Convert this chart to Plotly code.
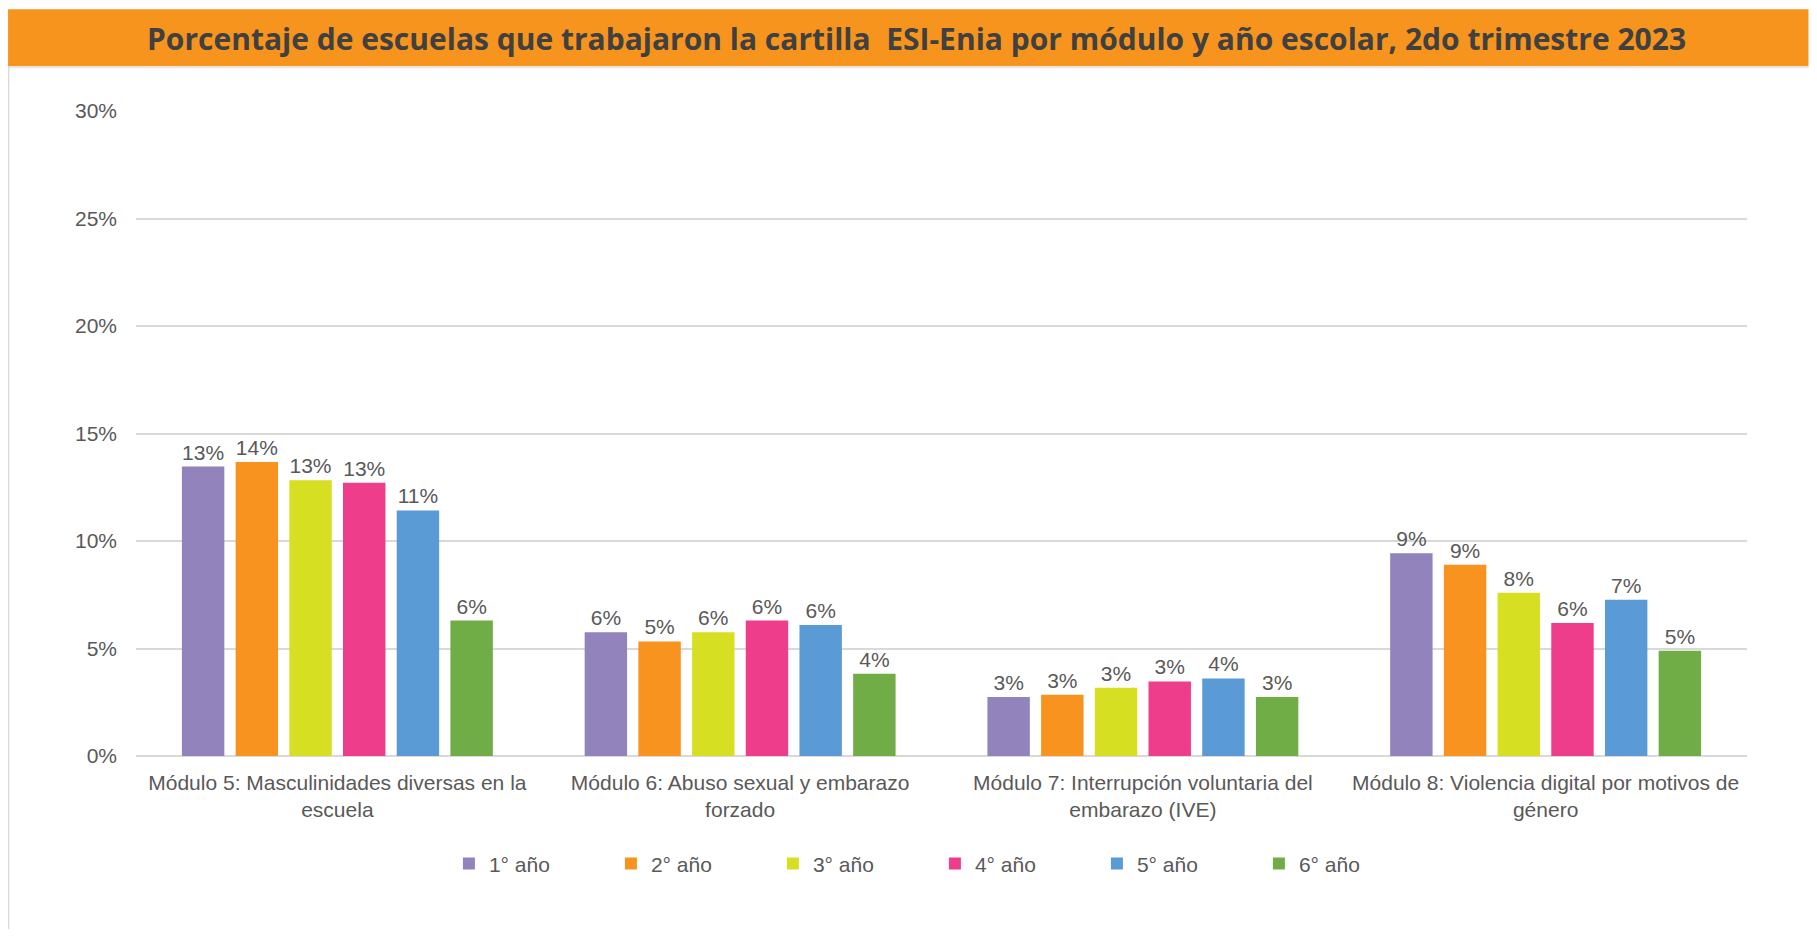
import plotly.graph_objects as go

categories = [
    "Módulo 5: Masculinidades diversas en la<br>escuela",
    "Módulo 6: Abuso sexual y embarazo<br>forzado",
    "Módulo 7: Interrupción voluntaria del<br>embarazo (IVE)",
    "Módulo 8: Violencia digital por motivos de<br>género",
]
series_names = ["1° año", "2° año", "3° año", "4° año", "5° año", "6° año"]
anio1 = [0.1346, 0.0576, 0.0275, 0.0943]
anio2 = [0.1368, 0.0533, 0.0285, 0.0889]
anio3 = [0.1282, 0.0576, 0.0318, 0.0759]
anio4 = [0.1271, 0.0630, 0.0347, 0.0619]
anio5 = [0.1142, 0.0609, 0.0361, 0.0727]
anio6 = [0.0630, 0.0382, 0.0275, 0.0490]
series_values = [anio1, anio2, anio3, anio4, anio5, anio6]
colors = ["#9383BD", "#F7931E", "#D7DF23", "#EE3D8B", "#5B9BD5", "#70AD47"]
title_text = "Porcentaje de escuelas que trabajaron la cartilla  ESI-Enia por módulo y año escolar, 2do trimestre 2023"

W, H = 1801, 921
ML, MR, MT, MB = 128, 61.5, 102.7, 173.3
PW = W - ML - MR
PH = H - MT - MB


def px_x(p):
    return (p - ML) / PW


def px_y(p):
    return (H - MB - p) / PH


TXT = "#595959"
FONT = "Liberation Sans, Arial, sans-serif"

fig = go.Figure()
for name, vals, col in zip(series_names, series_values, colors):
    fig.add_trace(go.Bar(
        name=name, x=categories, y=vals,
        marker=dict(color=col, line=dict(width=0)),
        texttemplate="%{y:.0%}", textposition="outside",
        textfont=dict(size=21, color=TXT, family=FONT),
        cliponaxis=False,
    ))

shapes = [
    # title band
    dict(type="rect", xref="paper", yref="paper",
         x0=px_x(0), x1=px_x(W), y0=px_y(1), y1=px_y(58),
         fillcolor="#F7941D", line=dict(width=0), layer="below"),
    # shadow under title
    dict(type="rect", xref="paper", yref="paper",
         x0=px_x(0), x1=px_x(W), y0=px_y(58), y1=px_y(60),
         fillcolor="#E6E6E6", line=dict(width=0), layer="below"),
    # left border
    dict(type="line", xref="paper", yref="paper",
         x0=px_x(0.5), x1=px_x(0.5), y0=px_y(58), y1=px_y(H),
         line=dict(color="#D9D9D9", width=1.5), layer="below"),
]

fig.update_layout(
    width=W, height=H,
    margin=dict(l=ML, r=MR, t=MT, b=MB, pad=0, autoexpand=False),
    paper_bgcolor="white", plot_bgcolor="white",
    barmode="group", bargap=0.2, bargroupgap=0.21,
    font=dict(family=FONT, size=21, color=TXT),
    shapes=shapes,
    showlegend=True,
    legend=dict(orientation="h", x=px_x(441), xanchor="left",
                y=px_y(855.5), yanchor="middle",
                entrywidth=117, entrywidthmode="pixels",
                font=dict(size=21, color=TXT, family=FONT),
                bgcolor="rgba(0,0,0,0)", traceorder="normal"),
    annotations=[dict(
        text="<b>" + title_text + "</b>", xref="paper", yref="paper",
        x=px_x(909), y=px_y(29.8), xanchor="center", yanchor="middle",
        showarrow=False,
        font=dict(family="Open Sans, sans-serif", size=30, color="#404040"),
    )],
    xaxis=dict(showgrid=False, showline=False, ticks="", tickfont=dict(size=21, color=TXT),
               ticklabelstandoff=12, fixedrange=True),
    yaxis=dict(range=[0, 0.30], dtick=0.05, tickformat=".0%", showgrid=True,
               gridcolor="#D9D9D9", gridwidth=1.5, zeroline=True, zerolinecolor="#D9D9D9",
               zerolinewidth=1.5, showline=False, ticks="", ticklabelstandoff=18,
               tickfont=dict(size=21, color=TXT), fixedrange=True),
)

fig.write_html("out.html")
